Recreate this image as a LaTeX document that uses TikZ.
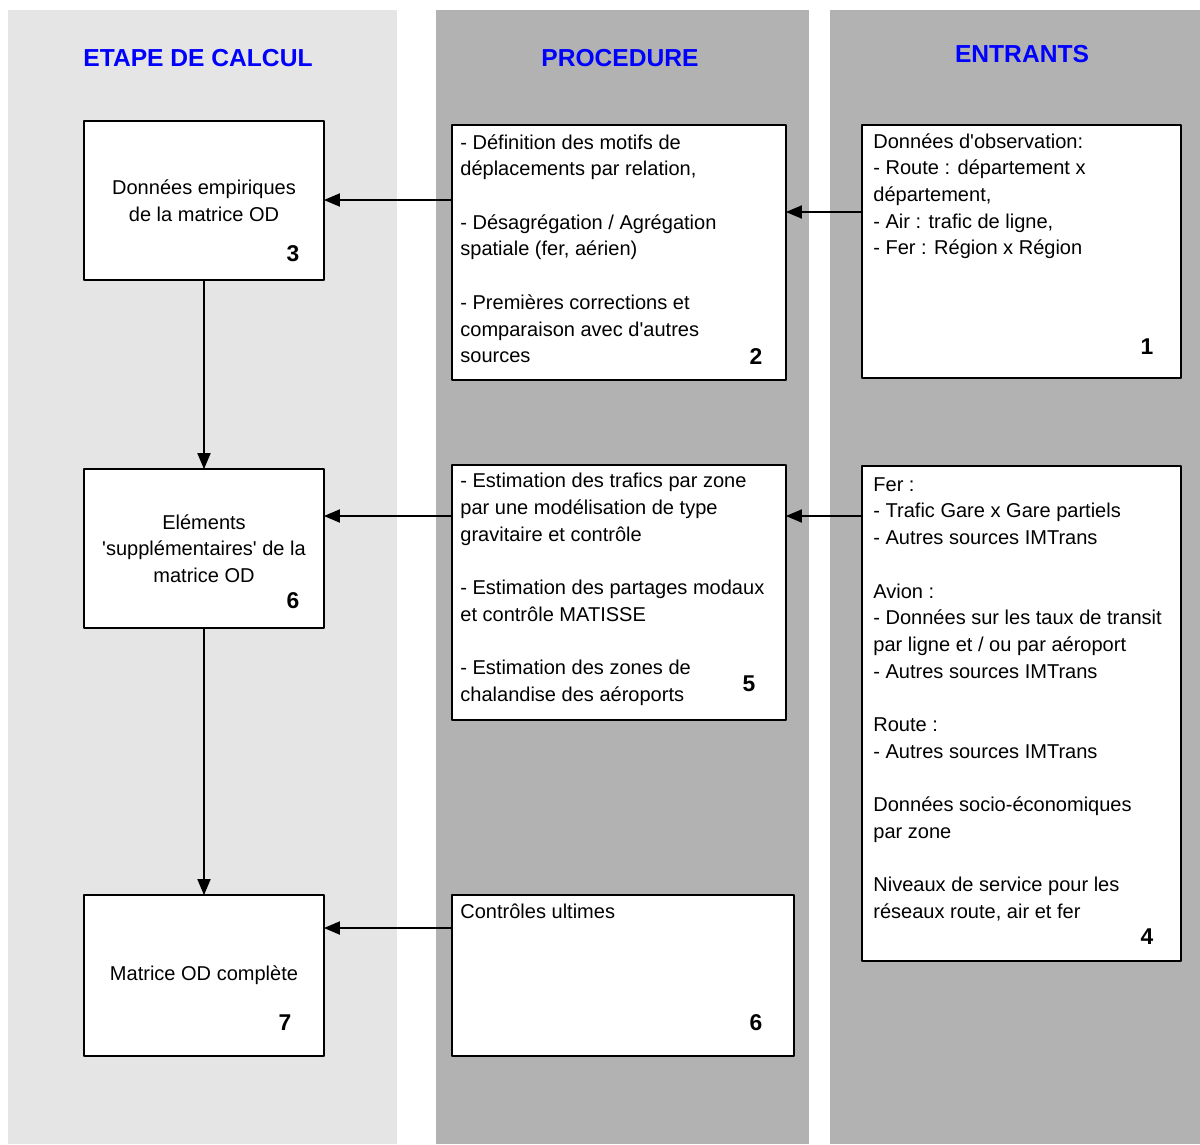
\documentclass[tikz,border=0pt]{standalone}
\usepackage{fontspec}
\setmainfont{Liberation Sans}
\usetikzlibrary{arrows}
\usetikzlibrary{positioning}

\definecolor{grisclair}{HTML}{E5E5E5}
\definecolor{grisfonce}{HTML}{B2B2B2}
\definecolor{bleutitre}{HTML}{0000FF}

\tikzset{
  etape/.style={draw=black,fill=white,line width=1.1pt,inner sep=0pt,outer sep=0pt,align=center,font=\fontsize{11.4}{15.2}\selectfont},
  texte/.style={inner sep=0pt,anchor=north west,align=left,font=\fontsize{11.4}{15.2}\selectfont},
  titre/.style={text=bleutitre,inner sep=0pt,font=\fontsize{14}{17}\selectfont\bfseries},
  numero/.style={inner sep=0pt,font=\fontsize{13}{15}\selectfont\bfseries},
  fleche/.style={->,line width=1.1pt}
}

\begin{document}
\begin{tikzpicture}[line cap=round,line join=round,>=triangle 45,x=0.02cm,y=-0.02cm]
\useasboundingbox (0,0) rectangle (1200,1144);
% colonnes
\fill[grisclair] (8,10) rectangle (397,1144);
\fill[grisfonce] (436,10) rectangle (809,1144);
\fill[grisfonce] (830,10) rectangle (1200,1144);
% titres
\node[titre] (tetape) at (198,58) {ETAPE DE CALCUL};
\node[titre] (tproc) at (620,58) {PROCEDURE};
\node[titre] (tentr) at (1022,54) {ENTRANTS};
% colonne etape de calcul
\node[etape,minimum width=4.8cm,minimum height=3.18cm] (b3) at (204,200.5) {Donn\'ees empiriques\\de la matrice OD};
\node[etape,minimum width=4.8cm,minimum height=3.18cm] (b6) at (204,548.5) {El\'ements\\\textquotesingle suppl\'ementaires\textquotesingle{} de la\\matrice OD};
\node[etape,minimum width=4.8cm,minimum height=3.22cm] (b7) at (204,975.5) {Matrice OD compl\`ete};
% colonne procedure
\node[etape,minimum width=6.68cm,minimum height=5.1cm] (b2) at (619,252.5) {};
\node[etape,minimum width=6.68cm,minimum height=5.1cm] (b5) at (619,592.5) {};
\node[etape,minimum width=6.84cm,minimum height=3.22cm] (b8) at (623,975.5) {};
% colonne entrants
\node[etape,minimum width=6.38cm,minimum height=5.06cm] (b1) at (1021.5,251.5) {};
\node[etape,minimum width=6.38cm,minimum height=9.9cm] (b4) at (1021.5,713.5) {};
% textes
\node[texte] (x2) at ([shift={(8,9)}]b2.north west) {- D\'efinition des motifs de\\d\'eplacements par relation,\\[15.2pt]- D\'esagr\'egation / Agr\'egation\\spatiale (fer, a\'erien)\\[15.2pt]- Premi\`eres corrections et\\comparaison avec d\textquotesingle autres\\sources};
\node[texte] (x5) at ([shift={(8,8)}]b5.north west) {- Estimation des trafics par zone\\par une mod\'elisation de type\\gravitaire et contr\^ole\\[15.2pt]- Estimation des partages modaux\\et contr\^ole MATISSE\\[15.2pt]- Estimation des zones de\\chalandise des a\'eroports};
\node[texte] (x8) at ([shift={(8,9)}]b8.north west) {Contr\^oles ultimes};
\node[texte] (x1) at ([shift={(11,8)}]b1.north west) {Donn\'ees d\textquotesingle observation:\\- Route : d\'epartement x\\d\'epartement,\\- Air : trafic de ligne,\\- Fer : R\'egion x R\'egion};
\node[texte] (x4) at ([shift={(11,11)}]b4.north west) {Fer :\\- Trafic Gare x Gare partiels\\- Autres sources IMTrans\\[15.2pt]Avion :\\- Donn\'ees sur les taux de transit\\par ligne et / ou par a\'eroport\\- Autres sources IMTrans\\[15.2pt]Route :\\- Autres sources IMTrans\\[15.2pt]Donn\'ees socio-\'economiques\\par zone\\[15.2pt]Niveaux de service pour les\\r\'eseaux route, air et fer};
% numeros
\node[numero] (n3) at (293,254) {3};
\node[numero] (n2) at (756,357) {2};
\node[numero] (n1) at (1147,347) {1};
\node[numero] (n6) at (293,601) {6};
\node[numero] (n5) at (749,684) {5};
\node[numero] (n4) at (1147,937) {4};
\node[numero] (n7) at (285,1023) {7};
\node[numero] (n8) at (756,1023) {6};
% fleches
\coordinate (r3) at (0,200);
\coordinate (r1) at (0,212);
\coordinate (r4) at (0,516);
\coordinate (r8) at (0,928);
\draw[fleche] (b2.west |- r3) -- (b3.east |- r3);
\draw[fleche] (b1.west |- r1) -- (b2.east |- r1);
\draw[fleche] (b5.west |- r4) -- (b6.east |- r4);
\draw[fleche] (b4.west |- r4) -- (b5.east |- r4);
\draw[fleche] (b8.west |- r8) -- (b7.east |- r8);
\draw[fleche] (b3.south) -- (b6.north);
\draw[fleche] (b6.south) -- (b7.north);
\end{tikzpicture}
\end{document}
